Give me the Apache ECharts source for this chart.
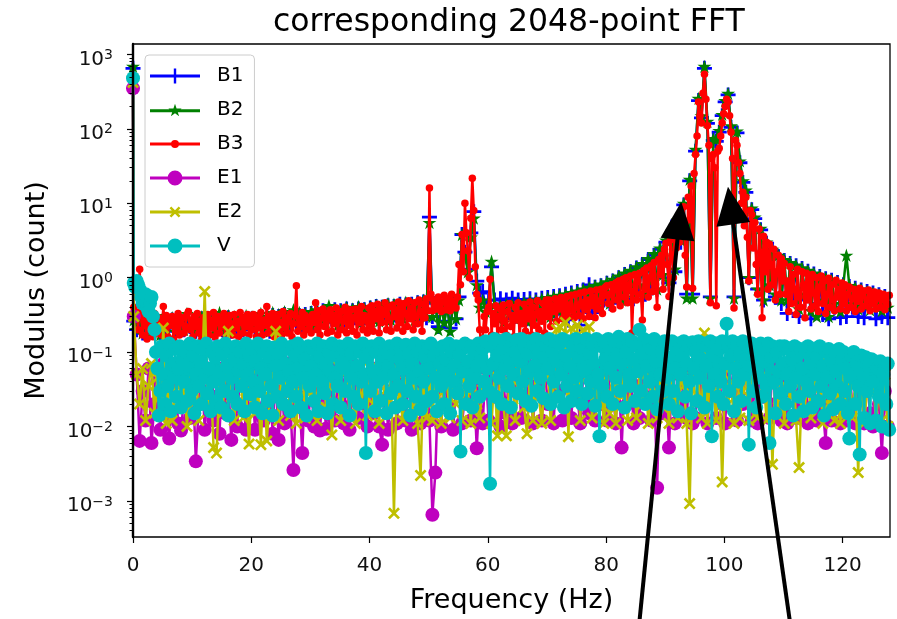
<!DOCTYPE html>
<html><head><meta charset="utf-8">
<script src="https://cdn.jsdelivr.net/npm/echarts@6/dist/echarts.min.js"></script>
<style>html,body{margin:0;padding:0;background:#fff}#c{width:897px;height:619px}</style>
</head><body><div id="c"></div>
<script>
// Frequency grid: DC bin at 0 Hz, then bins every FREQ_STEP starting at 0.125 Hz
const FREQ_OFFSET = 0.125;
const seriesNames = ['B1','B2','B3','E1','E2','V'];
const seriesColors = ['#0000ff','#008000','#ff0000','#bf00bf','#bfbf00','#00bfbf'];
const seriesSteps = [0.5, 0.5, 0.25, 0.5, 0.5, 0.25];
const dcValues = [650, 690, 500, 350, 420, 480];

const B1 = [
0.26,0.2,0.27,0.18,0.24,0.26,0.19,0.22,0.25,0.18,0.27,0.21,0.25,0.27,0.19,0.23,0.26,0.2,0.27,0.22,
0.26,0.19,0.24,0.28,0.2,0.26,0.28,0.18,0.23,0.27,0.2,0.25,0.29,0.19,0.28,0.22,0.27,0.2,0.28,0.23,
0.28,0.21,0.27,0.3,0.22,0.29,0.19,0.31,0.24,0.3,0.21,0.32,0.26,0.23,0.32,0.24,0.31,0.21,0.32,0.26,
0.33,0.23,0.35,0.28,0.36,0.25,0.35,0.3,0.37,0.23,0.36,0.27,0.38,0.26,0.36,0.31,0.38,0.24,0.37,0.29,
0.39,0.27,0.41,0.25,0.4,0.32,0.42,0.26,0.41,0.31,0.44,0.28,0.43,0.33,0.44,0.27,0.46,0.32,0.47,0.29,
6.5,0.3,0.45,0.22,0.42,0.26,0.44,0.21,0.47,0.28,0.55,3.8,2.2,1.3,4,7.7,0.9,0.62,0.65,0.4,
0.5,1.4,0.5,0.32,0.52,0.28,0.5,0.36,0.53,0.3,0.5,0.38,0.51,0.28,0.52,0.35,0.5,0.3,0.53,0.37,
0.54,0.3,0.56,0.38,0.57,0.32,0.6,0.27,0.62,0.4,0.65,0.23,0.68,0.42,0.8,0.34,0.74,0.45,0.78,0.5,
0.84,0.45,0.9,0.58,1.0,0.5,1.1,0.68,1.2,0.52,1.35,0.75,1.5,0.6,1.75,0.85,2.0,0.7,2.4,1.0,
3.0,0.85,4.0,1.2,5.8,3,9.5,0.6,20,0.6,50,240,140,650,118,0.55,70,68,90,150,
230,285,105,0.55,88,35,19,14,1.0,8.2,6.2,0.7,4.4,0.5,2.9,0.75,2.3,0.55,1.9,0.45,
1.7,0.33,1.55,0.6,1.45,0.3,1.33,0.5,1.22,0.28,1.12,0.45,1.04,0.32,0.97,0.28,0.92,0.4,0.86,0.29,
0.8,0.3,0.76,0.4,0.72,0.3,0.68,0.29,0.65,0.42,0.62,0.28,0.59,0.3,0.56,0.29
];
const B2 = [
0.27,0.2,0.3,0.18,0.25,0.29,0.19,0.23,0.28,0.17,0.31,0.21,0.26,0.29,0.19,0.24,0.28,0.2,0.33,0.22,
0.28,0.19,0.25,0.3,0.21,0.29,0.27,0.18,0.23,0.34,0.2,0.27,0.31,0.19,0.3,0.22,0.28,0.21,0.31,0.25,
0.3,0.21,0.28,0.33,0.22,0.3,0.19,0.34,0.25,0.32,0.21,0.35,0.28,0.23,0.37,0.26,0.34,0.22,0.33,0.27,
0.35,0.23,0.37,0.3,0.36,0.25,0.42,0.31,0.38,0.23,0.37,0.28,0.4,0.26,0.38,0.32,0.41,0.25,0.39,0.3,
0.41,0.28,0.43,0.26,0.42,0.33,0.45,0.27,0.44,0.31,0.45,0.28,0.47,0.34,0.45,0.27,0.48,0.32,0.5,0.3,
5.5,0.3,0.45,0.2,0.4,0.25,0.42,0.19,0.45,0.28,0.5,3.8,2.0,1.2,3.5,6.3,0.8,0.4,0.5,0.35,
0.42,1.66,0.43,0.3,0.42,0.25,0.44,0.33,0.45,0.28,0.46,0.35,0.47,0.26,0.49,0.36,0.5,0.3,0.52,0.38,
0.54,0.3,0.56,0.4,0.58,0.33,0.6,0.45,0.63,0.36,0.66,0.5,0.7,0.4,0.74,0.55,0.78,0.45,0.82,0.6,
0.88,0.45,0.95,0.6,1.05,0.5,1.15,0.7,1.25,0.55,1.4,0.8,1.55,0.6,1.8,0.9,2.1,0.7,2.5,1.1,
3.2,0.9,4.2,1.3,6,3.2,10,0.53,21,0.53,53,257,150,690,126,0.53,74,72,95,156,
240,300,110,0.53,93,37,20,15,1.0,8.6,6.5,0.7,4.6,0.5,3.0,0.8,2.4,0.6,2.0,0.5,
1.75,0.5,1.6,0.7,1.48,0.38,1.36,0.6,1.25,0.36,1.15,0.3,1.07,0.5,1.0,0.3,0.94,0.45,0.88,0.35,
0.82,2.0,0.78,0.45,0.74,0.38,0.7,0.5,0.66,0.37,0.63,0.45,0.6,0.36,0.57,0.4
];
const B3 = [
0.4,0.28,0.34,0.2,1.3,0.31,0.17,0.26,0.23,0.15,0.3,0.2,0.27,0.16,0.33,0.22,0.18,0.29,0.24,0.17,
0.41,0.21,0.31,0.16,0.26,0.23,0.3,0.15,0.28,0.19,0.33,0.17,0.25,0.29,0.18,0.22,0.32,0.35,0.2,0.27,
0.16,0.3,0.22,0.33,0.18,0.26,0.15,0.29,0.23,0.19,0.32,0.17,0.27,0.21,0.34,0.16,0.25,0.3,0.18,0.27,
0.22,0.33,0.15,0.28,0.2,0.31,0.24,0.17,0.32,0.21,0.26,0.16,0.34,0.25,0.18,0.29,0.22,0.32,0.17,0.28,
0.2,0.32,0.25,0.16,0.29,0.21,0.34,0.17,0.27,0.23,0.41,0.18,0.3,0.22,0.33,0.16,0.28,0.2,0.32,0.25,
0.17,0.35,0.21,0.29,0.18,0.26,0.33,0.16,0.24,0.31,0.78,0.19,0.28,0.22,0.34,0.17,0.31,0.25,0.2,0.29,
0.18,0.32,0.25,0.46,0.2,0.36,0.17,0.29,0.38,0.22,0.33,0.18,0.28,0.37,0.19,0.31,0.24,0.39,0.17,0.3,
0.35,0.2,0.26,0.4,0.18,0.33,0.23,0.37,0.19,0.29,0.38,0.17,0.34,0.25,0.41,0.2,0.31,0.27,0.18,0.39,
0.22,0.42,0.19,0.35,0.28,0.44,0.18,0.38,0.25,0.32,0.46,0.2,0.4,0.27,0.19,0.43,0.3,0.37,0.21,0.47,
0.25,0.41,0.19,0.45,0.33,0.22,0.49,0.28,0.39,0.2,0.46,0.3,0.24,0.5,0.35,0.19,0.44,0.29,0.52,0.36,
16,0.6,0.36,0.5,0.42,0.38,0.55,0.4,0.35,0.47,0.58,0.37,0.44,0.52,0.36,0.6,0.41,0.48,0.39,0.55,
1.5,0.8,3.8,1.2,10,4,2.3,1.0,6.3,21.7,8,1.4,0.6,0.5,0.2,0.13,0.15,0.3,0.2,0.35,
0.4,0.95,0.17,0.33,0.24,0.42,0.16,0.3,0.38,0.2,0.43,0.26,0.17,0.35,0.45,0.22,0.31,0.16,0.4,0.27,
0.46,0.16,0.33,0.24,0.44,0.19,0.37,0.28,0.47,0.17,0.4,0.23,0.32,0.49,0.2,0.35,0.26,0.45,0.18,0.5,
0.3,0.5,0.22,0.42,0.35,0.52,0.26,0.45,0.38,0.54,0.28,0.47,0.33,0.56,0.3,0.43,0.58,0.36,0.29,0.6,
0.4,0.31,0.62,0.46,0.28,0.64,0.37,0.5,0.3,0.66,0.42,0.55,0.29,0.68,0.38,0.48,0.7,0.33,0.58,0.74,
0.78,0.45,0.6,0.8,0.38,0.7,0.85,0.5,0.9,0.42,0.75,0.95,0.55,1.0,0.46,0.8,1.05,0.18,0.65,1.1,
0.5,0.9,1.15,0.6,0.27,1.25,0.7,1.35,0.55,1.0,1.45,0.65,1.6,0.8,0.4,1.75,1.1,2.0,0.7,2.4,
2.9,1.5,0.56,3.2,2.0,1.0,4.5,2.5,5.5,3.0,7.0,4.0,9.0,2.0,0.75,12,6,17,0.72,25,
45,80,230,150,120,300,540,250,110,60,0.46,40,45,30,0.42,50,55,80,120,160,
200,250,230,150,90,40,0.39,70,60,35,25,10,14,5,12,3.5,0.9,8,7,2.5,
5.5,1.5,0.6,4.5,2.2,0.29,3.6,1.2,3.0,0.7,2.8,1.5,0.8,2.4,0.5,1.2,2.0,0.6,1.8,0.9,
1.55,0.6,0.9,0.35,1.4,0.45,1.1,0.7,0.32,1.3,0.55,0.4,1.2,0.8,0.29,1.15,0.5,0.95,0.38,1.1,
0.62,0.42,1.0,0.35,0.75,1.05,0.45,0.9,0.33,0.6,0.98,0.4,0.8,0.5,0.36,0.92,0.55,0.7,0.38,0.85,
0.45,0.8,0.36,0.6,0.75,0.4,0.52,0.7,0.35,0.62,0.48,0.72,0.38,0.58,0.66,0.42,0.5,0.68,0.36,0.6,
0.45,0.64,0.38,0.55,0.62,0.4,0.5,0.6,0.37,0.56,0.44,0.58
];
const E1 = [
0.3,0.05,0.0064,0.03,0.012,0.06,0.006,0.02,0.04,0.009,0.07,0.015,0.0069,0.035,0.05,0.011,0.0088,0.025,0.06,0.013,
0.04,0.0034,0.02,0.07,0.009,0.03,0.05,0.012,0.025,0.008,0.06,0.015,0.035,0.0066,0.045,0.01,0.07,0.02,0.009,0.04,
0.05,0.009,0.03,0.065,0.012,0.02,0.04,0.008,0.055,0.0066,0.03,0.011,0.07,0.018,0.0026,0.04,0.025,0.0044,0.05,0.012,
0.035,0.01,0.06,0.0088,0.045,0.0093,0.025,0.07,0.012,0.04,0.02,0.011,0.055,0.009,0.03,0.065,0.013,0.045,0.02,0.01,
0.04,0.015,0.06,0.01,0.0057,0.05,0.009,0.03,0.07,0.011,0.04,0.02,0.012,0.055,0.009,0.035,0.065,0.011,0.025,0.05,
0.012,0.00065,0.0024,0.04,0.01,0.06,0.02,0.05,0.009,0.035,0.07,0.011,0.025,0.05,0.012,0.04,0.0051,0.03,0.011,0.06,
0.012,0.05,0.025,0.07,0.01,0.04,0.015,0.06,0.011,0.03,0.07,0.013,0.045,0.02,0.065,0.011,0.035,0.05,0.012,0.06,
0.02,0.05,0.011,0.07,0.03,0.012,0.06,0.04,0.013,0.07,0.025,0.011,0.05,0.065,0.015,0.035,0.012,0.06,0.02,0.045,
0.012,0.07,0.03,0.011,0.06,0.0052,0.045,0.02,0.07,0.011,0.035,0.013,0.055,0.025,0.07,0.012,0.04,0.0015,0.06,0.015,
0.03,0.0052,0.05,0.011,0.07,0.02,0.04,0.013,0.06,0.011,0.013,0.07,0.025,0.05,0.011,0.035,0.06,0.013,0.045,0.02,
0.011,0.06,0.03,0.07,0.012,0.045,0.02,0.06,0.13,0.012,0.04,0.011,0.07,0.025,0.05,0.013,0.06,0.02,0.07,0.012,
0.05,0.011,0.03,0.065,0.013,0.045,0.02,0.07,0.011,0.035,0.06,0.012,0.04,0.018,0.006,0.1,0.012,0.05,0.025,0.011,
0.04,0.012,0.06,0.02,0.011,0.05,0.03,0.011,0.045,0.015,0.01,0.04,0.02,0.0044,0.03,0.01
];
const E2 = [
0.3,0.05,0.02,0.06,0.012,0.035,0.07,0.015,0.045,0.025,0.21,0.011,0.055,0.012,0.03,0.065,0.018,0.04,0.01,0.05,
0.02,0.06,0.012,0.035,0.65,0.02,0.05,0.0052,0.0044,0.04,0.015,0.06,0.19,0.025,0.012,0.045,0.07,0.013,0.03,0.0058,
0.05,0.015,0.035,0.0057,0.06,0.0064,0.025,0.045,0.19,0.012,0.055,0.02,0.07,0.014,0.04,0.011,0.03,0.06,0.013,0.045,
0.025,0.06,0.012,0.04,0.07,0.018,0.05,0.0077,0.035,0.065,0.012,0.03,0.055,0.015,0.045,0.011,0.06,0.02,0.04,0.014,
0.06,0.02,0.045,0.011,0.07,0.03,0.015,0.05,0.00068,0.06,0.025,0.012,0.04,0.065,0.018,0.035,0.011,0.0022,0.055,0.013,
0.04,0.012,0.06,0.025,0.011,0.05,0.035,0.013,0.07,0.02,0.045,0.012,0.06,0.03,0.011,0.055,0.02,0.013,0.04,0.065,
0.03,0.011,0.05,0.0075,0.065,0.02,0.0075,0.04,0.06,0.012,0.035,0.07,0.018,0.008,0.05,0.012,0.06,0.025,0.011,0.045,
0.06,0.012,0.035,0.2,0.22,0.05,0.25,0.0073,0.21,0.03,0.23,0.012,0.2,0.045,0.22,0.013,0.065,0.02,0.04,0.011,
0.055,0.015,0.07,0.011,0.04,0.025,0.06,0.012,0.035,0.065,0.013,0.05,0.02,0.07,0.011,0.045,0.03,0.013,0.06,0.018,
0.04,0.011,0.065,0.025,0.013,0.05,0.035,0.011,0.00092,0.06,0.02,0.045,0.013,0.18,0.011,0.07,0.03,0.012,0.05,0.0018,
0.06,0.02,0.04,0.011,0.07,0.013,0.03,0.055,0.012,0.045,0.065,0.013,0.025,0.05,0.012,0.04,0.0031,0.06,0.018,0.035,
0.011,0.055,0.025,0.065,0.012,0.0028,0.04,0.018,0.06,0.013,0.05,0.03,0.07,0.011,0.045,0.02,0.06,0.012,0.035,0.011,
0.05,0.015,0.065,0.013,0.04,0.0024,0.055,0.011,0.03,0.045,0.06,0.011,0.035,0.012,0.05,0.01
];
const V = [
0.85,0.75,0.9,0.8,0.7,0.55,0.45,0.5,0.6,0.4,0.35,0.45,0.55,0.3,0.2,0.1,0.06,0.014,0.03,0.12,
0.05,0.02,0.09,0.035,0.13,0.016,0.07,0.045,0.11,0.025,0.06,0.12,0.018,0.08,0.04,0.1,0.022,0.065,0.13,0.03,
0.09,0.015,0.05,0.12,0.035,0.075,0.02,0.11,0.045,0.13,0.028,0.06,0.016,0.1,0.04,0.085,0.022,0.12,0.055,0.018,
0.095,0.03,0.13,0.065,0.014,0.11,0.045,0.025,0.08,0.12,0.02,0.055,0.1,0.035,0.07,0.016,0.13,0.05,0.09,0.027,
0.11,0.04,0.018,0.075,0.13,0.03,0.06,0.015,0.1,0.05,0.12,0.022,0.085,0.035,0.014,0.115,0.065,0.025,0.095,0.045,
0.13,0.02,0.07,0.11,0.03,0.055,0.016,0.12,0.04,0.09,0.025,0.13,0.06,0.018,0.1,0.045,0.08,0.014,0.12,0.035,
0.065,0.11,0.022,0.05,0.13,0.016,0.085,0.04,0.12,0.028,0.07,0.015,0.1,0.055,0.13,0.02,0.045,0.09,0.035,0.12,
0.018,0.075,0.11,0.03,0.06,0.13,0.014,0.095,0.045,0.025,0.12,0.065,0.02,0.1,0.04,0.13,0.05,0.0044,0.085,0.11,
0.03,0.12,0.055,0.016,0.1,0.04,0.13,0.022,0.075,0.045,0.11,0.015,0.065,0.12,0.028,0.09,0.05,0.018,0.13,0.035,
0.08,0.11,0.02,0.06,0.125,0.03,0.095,0.014,0.07,0.045,0.13,0.025,0.1,0.055,0.017,0.12,0.04,0.085,0.022,0.115,
0.06,0.13,0.025,0.09,0.045,0.016,0.11,0.07,0.035,0.12,0.02,0.08,0.05,0.13,0.015,0.1,0.04,0.065,0.12,0.028,
0.09,0.0046,0.11,0.055,0.13,0.02,0.075,0.035,0.12,0.018,0.1,0.045,0.065,0.13,0.025,0.085,0.11,0.04,0.14,0.06,
0.03,0.0017,0.12,0.07,0.15,0.025,0.09,0.045,0.14,0.02,0.11,0.06,0.15,0.035,0.08,0.018,0.13,0.05,0.1,0.145,
0.028,0.075,0.15,0.04,0.12,0.022,0.095,0.14,0.055,0.019,0.13,0.065,0.15,0.03,0.1,0.045,0.14,0.024,0.085,0.12,
0.06,0.15,0.02,0.1,0.04,0.14,0.075,0.025,0.13,0.05,0.15,0.018,0.09,0.035,0.14,0.065,0.022,0.12,0.045,0.15,
0.03,0.085,0.14,0.02,0.11,0.055,0.15,0.028,0.095,0.04,0.13,0.07,0.019,0.15,0.05,0.0074,0.12,0.035,0.14,0.08,
0.025,0.15,0.06,0.11,0.02,0.14,0.045,0.09,0.16,0.03,0.07,0.13,0.018,0.1,0.15,0.05,0.035,0.14,0.08,0.022,
0.12,0.055,0.2,0.03,0.095,0.15,0.02,0.065,0.14,0.04,0.11,0.025,0.15,0.075,0.017,0.13,0.05,0.1,0.03,0.14,
0.045,0.13,0.02,0.085,0.14,0.03,0.06,0.11,0.016,0.13,0.05,0.09,0.14,0.025,0.07,0.12,0.04,0.015,0.135,0.06,
0.1,0.022,0.14,0.045,0.08,0.13,0.018,0.065,0.12,0.035,0.14,0.0074,0.09,0.05,0.13,0.025,0.11,0.04,0.14,0.02,
0.07,0.24,0.12,0.03,0.09,0.14,0.016,0.06,0.13,0.04,0.1,0.022,0.14,0.05,0.08,0.12,0.0057,0.065,0.13,0.03,
0.095,0.018,0.12,0.045,0.13,0.025,0.075,0.11,0.035,0.13,0.006,0.085,0.12,0.04,0.015,0.1,0.055,0.12,0.028,0.07,
0.12,0.02,0.05,0.11,0.035,0.08,0.014,0.12,0.045,0.09,0.025,0.11,0.06,0.016,0.1,0.04,0.12,0.03,0.07,0.018,
0.11,0.05,0.085,0.022,0.12,0.035,0.065,0.014,0.1,0.045,0.11,0.028,0.075,0.017,0.1,0.055,0.035,0.11,0.02,0.08,
0.1,0.03,0.06,0.015,0.0069,0.09,0.045,0.1,0.02,0.07,0.035,0.0042,0.09,0.05,0.013,0.085,0.03,0.065,0.011,0.08,
0.04,0.07,0.012,0.06,0.025,0.075,0.01,0.05,0.065,0.02,0.07,0.009
];
const seriesValues = [B1, B2, B3, E1, E2, V];

const xTickValues = [0, 20, 40, 60, 80, 100, 120];
const yTickValues = [1e-3, 1e-2, 1e-1, 1, 10, 100, 1000];
const yMinorTickValues = [
  4e-4,5e-4,6e-4,7e-4,8e-4,9e-4,
  2e-3,3e-3,4e-3,5e-3,6e-3,7e-3,8e-3,9e-3,
  2e-2,3e-2,4e-2,5e-2,6e-2,7e-2,8e-2,9e-2,
  0.2,0.3,0.4,0.5,0.6,0.7,0.8,0.9,
  2,3,4,5,6,7,8,9,
  20,30,40,50,60,70,80,90,
  200,300,400,500,600,700,800,900
];
// annotation arrows: [tip freq, tip modulus], [tail freq, tail modulus]
const arrowTips = [[92.7, 10.5], [100.6, 16.7]];
const arrowTails = [[85.3, 1.3e-5], [111.55, 1.3e-5]];

const FONT = 'DejaVu Sans';
const PLUS = 'path://M5.3,0H7.7V5.3H13V7.7H7.7V13H5.3V7.7H0V5.3H5.3Z';
const STAR = 'path://M10,0L12.245,6.91L19.511,6.91L13.633,11.18L15.878,18.09L10,13.82L4.122,18.09L6.367,11.18L0.489,6.91L7.755,6.91Z';
const CROSS = 'path://M9.193,0L10.89,1.697L7.142,5.445L10.89,9.193L9.193,10.89L5.445,7.142L1.697,10.89L0,9.193L3.748,5.445L0,1.697L1.697,0L5.445,3.748Z';
const seriesSymbols = [PLUS, STAR, 'circle', 'circle', CROSS, 'circle'];
const seriesSymbolSizes = [15, 14, 7.5, 14, 12, 14];

const LINE = 'M0,7.5H50V10.5H0Z';
const legendIcons = [
  'path://' + LINE + 'M23.8,1.5H26.2V7.8H32.5V10.2H26.2V16.5H23.8V10.2H17.5V7.8H23.8Z',
  'path://' + LINE + 'M25,2L26.572,6.837L31.657,6.837L27.543,9.826L29.115,14.663L25,11.674L20.885,14.663L22.457,9.826L18.343,6.837L23.428,6.837Z',
  'path://' + LINE + 'M21,9A4,4 0 1 1 29,9A4,4 0 1 1 21,9Z',
  'path://' + LINE + 'M17.5,9A7.5,7.5 0 1 1 32.5,9A7.5,7.5 0 1 1 17.5,9Z',
  'path://' + LINE + 'M28.748,3.555L30.445,5.252L26.697,9L30.445,12.748L28.748,14.445L25,10.697L21.252,14.445L19.555,12.748L23.303,9L19.555,5.252L21.252,3.555L25,7.303Z',
  'path://' + LINE + 'M17.5,9A7.5,7.5 0 1 1 32.5,9A7.5,7.5 0 1 1 17.5,9Z'
];

const Y_MIN = 3.27e-4, Y_MAX = 1380;

function buildData(idx) {
  const vals = seriesValues[idx], step = seriesSteps[idx];
  const d = [[0, dcValues[idx]]];
  for (let i = 0; i < vals.length; i++) d.push([FREQ_OFFSET + i * step, vals[i]]);
  return d;
}
const lengthProblems = seriesValues.map((a, i) => a.length !== Math.round(128 / seriesSteps[i]) ? seriesNames[i] + ':' + a.length : null).filter(Boolean).join(' ');

const lineSeries = seriesNames.map((name, i) => ({
  name, type: 'line', data: buildData(i), z: 2 + i,
  symbol: seriesSymbols[i], symbolSize: seriesSymbolSizes[i], symbolKeepAspect: true,
  showSymbol: true, showAllSymbol: true,
  lineStyle: { color: seriesColors[i], width: 2.5 },
  itemStyle: { color: seriesColors[i], borderWidth: 0 },
  emphasis: { disabled: true }, animation: false, clip: true
}));

const arrowSeries = {
  type: 'custom', name: 'arrows', xAxisIndex: 0, yAxisIndex: 1, z: 40, silent: true, clip: false,
  data: arrowTips.map((t, i) => [t[0], t[1], arrowTails[i][0], arrowTails[i][1]]),
  encode: { x: [0, 2], y: [1, 3] },
  renderItem(params, api) {
    const tip = api.coord([api.value(0), api.value(1)]);
    const tail = api.coord([api.value(2), api.value(3)]);
    const dx = tip[0] - tail[0], dy = tip[1] - tail[1];
    const L = Math.hypot(dx, dy), ux = dx / L, uy = dy / L;
    const hl = 38, hw = 17;
    const bx = tip[0] - ux * hl, by = tip[1] - uy * hl;
    const px = -uy, py = ux;
    return { type: 'group', children: [
      { type: 'line', shape: { x1: tail[0], y1: tail[1], x2: bx + ux * 2, y2: by + uy * 2 }, style: { stroke: '#000', lineWidth: 4 } },
      { type: 'polygon', shape: { points: [[tip[0], tip[1]], [bx + px * hw, by + py * hw], [bx - px * hw, by - py * hw]] }, style: { fill: '#000' } }
    ]};
  }
};

function expLabel(v) {
  const e = Math.log10(v), r = Math.round(e);
  if (Math.abs(e - r) > 1e-6) return '';
  return '{b|10}{s|' + (r < 0 ? '\u2212' + (-r) : r) + '}';
}

const chart = echarts.init(document.getElementById('c'), null, { renderer: 'canvas' });
chart.setOption({
  animation: false,
  textStyle: { fontFamily: FONT },
  title: {
    text: 'corresponding 2048-point FFT', subtext: lengthProblems, left: 273, top: 7, padding: 0,
    textStyle: { fontFamily: FONT, fontSize: 31.5, fontWeight: 'normal', color: '#000' }
  },
  grid: { left: 133, right: 7, top: 44, bottom: 82, show: true, borderColor: '#000', borderWidth: 1.3, backgroundColor: 'transparent', z: 30 },
  legend: {
    left: 145, top: 55, orient: 'vertical', padding: [11, 11, 11, 5],
    itemWidth: 50, itemHeight: 18, itemGap: 14, selectedMode: false, z: 50,
    backgroundColor: 'rgba(255,255,255,0.8)', borderColor: '#cccccc', borderWidth: 1, borderRadius: 4,
    textStyle: { fontFamily: FONT, fontSize: 20, color: '#000', padding: [0, 0, 0, 12] },
    itemStyle: { borderWidth: 0 },
    data: seriesNames.map((n, i) => ({ name: n, icon: legendIcons[i] }))
  },
  xAxis: {
    type: 'value', min: 0, max: 128, interval: 20, z: 30,
    name: 'Frequency (Hz)', nameLocation: 'middle', nameGap: 50,
    nameTextStyle: { fontFamily: FONT, fontSize: 27, color: '#000' },
    axisLine: { show: false },
    axisTick: { show: true, length: 6, customValues: xTickValues, lineStyle: { color: '#000', width: 1.2 } },
    axisLabel: { show: true, customValues: xTickValues, margin: 19, fontFamily: FONT, fontSize: 20, color: '#111',
      formatter: v => (v % 20 === 0 ? String(v) : '') },
    splitLine: { show: false }
  },
  yAxis: [{
    type: 'log', min: Y_MIN, max: Y_MAX, z: 30,
    name: 'Modulus (count)', nameLocation: 'middle', nameGap: 83,
    nameTextStyle: { fontFamily: FONT, fontSize: 27, color: '#000' },
    axisLine: { show: true, onZero: false, lineStyle: { color: '#000', width: 2.4 } },
    axisTick: { show: true, length: 6, customValues: yTickValues, lineStyle: { color: '#000', width: 1.2 } },
    axisLabel: { show: true, customValues: yTickValues, margin: 20, padding: [10, 0, 0, 0], formatter: expLabel,
      rich: {
        b: { fontFamily: FONT, fontSize: 20, color: '#111' },
        s: { fontFamily: FONT, fontSize: 14, color: '#111', padding: [0, 0, 8, 0] }
      } },
    splitLine: { show: false }, minorTick: { show: false }
  }, {
    type: 'log', min: Y_MIN, max: Y_MAX, position: 'left', z: 30,
    axisLine: { show: false },
    axisTick: { show: true, length: 3.5, customValues: yMinorTickValues, lineStyle: { color: '#000', width: 1 } },
    axisLabel: { show: false }, splitLine: { show: false }
  }],
  series: lineSeries.concat([arrowSeries])
});
</script>
</body></html>
